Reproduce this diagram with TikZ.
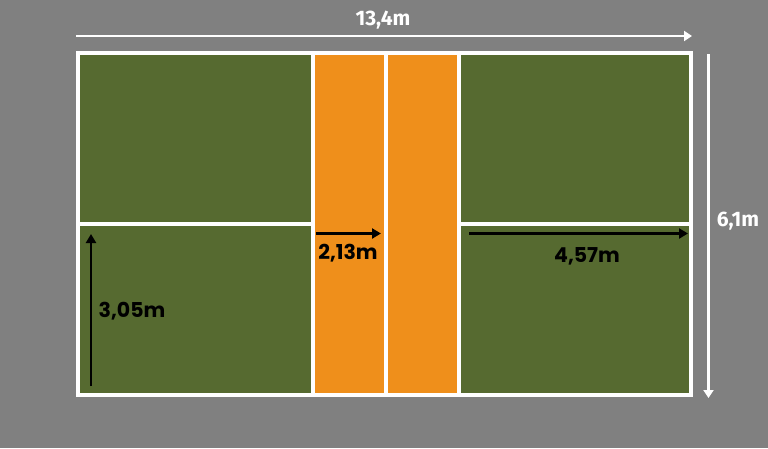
\documentclass[tikz,border=0pt]{standalone}
\usepackage{fontspec}
\setmainfont{Poppins}
\newfontfamily\dimfont{Fira Sans}[UprightFont=* Bold]
\usetikzlibrary{arrows.meta}
\definecolor{bggray}{HTML}{808080}
\definecolor{turf}{HTML}{566A30}
\definecolor{zone}{HTML}{EF8F1B}
\tikzset{
  court/.style={draw=white,line width=4pt},
  blackarrow/.style={draw=black,line width=2.4pt,-{Triangle[length=9pt,width=10pt]}},
  whitearrow/.style={draw=white,line width=2.6pt,-{Triangle[length=8pt,width=10pt]}},
  blacklabel/.style={text=black,font=\fontsize{20.5}{22}\selectfont\bfseries,inner sep=0pt},
  whitelabel/.style={text=white,font=\dimfont\fontsize{21}{23}\selectfont,inner sep=0pt}
}
\begin{document}
\begin{tikzpicture}[x=1pt,y=-1pt]
\fill[bggray] (0,0) rectangle (768,448);
\useasboundingbox (0,0) rectangle (768,448);
% fills
\fill[turf] (78,53) rectangle (313,394);
\fill[zone] (313,53) rectangle (459,394);
\fill[turf] (459,53) rectangle (691,394);
% lines
\draw[court] (313,53) -- (313,394);
\draw[court] (386,53) -- (386,394);
\draw[court] (459,53) -- (459,394);
\draw[court] (78,223.5) -- (313,223.5);
\draw[court] (459,223.5) -- (691,223.5);
\draw[court] (78,53) rectangle (691,394.5);
% dimension arrows
\coordinate (topA) at (76,36);
\coordinate (topB) at (692,36);
\draw[whitearrow] (topA) -- (topB);
\node[whitelabel] (lw) at (383,20) {13,4m};
\coordinate (rA) at (708.5,54);
\coordinate (rB) at (708.5,398);
\draw[whitearrow] (rA) -- (rB);
\node[whitelabel] (lh) at (738,221) {6,1m};
\coordinate (vA) at (91,386);
\coordinate (vB) at (91,234);
\draw[blackarrow] (vA) -- (vB);
\node[blacklabel] (l305) at (132,311) {3,05m};
\coordinate (kA) at (316,233.5);
\coordinate (kB) at (381,233.5);
\draw[blackarrow] (kA) -- (kB);
\node[blacklabel] (l213) at (348,253) {2,13m};
\coordinate (sA) at (469,233.5);
\coordinate (sB) at (688,233.5);
\draw[blackarrow] (sA) -- (sB);
\node[blacklabel] (l457) at (587,256.5) {4,57m};
\end{tikzpicture}
\end{document}
